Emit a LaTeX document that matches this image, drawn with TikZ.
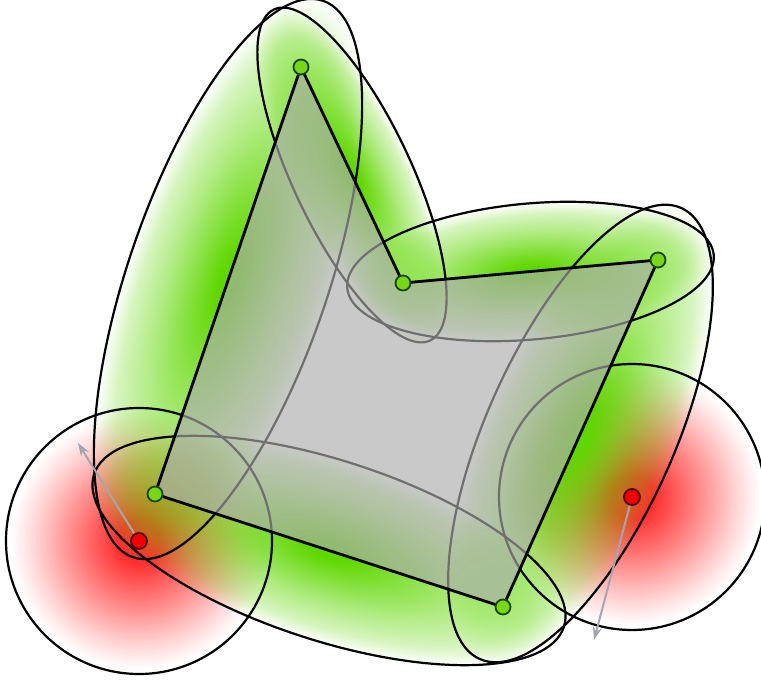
\documentclass[tikz,border=0pt]{standalone}
\usetikzlibrary{fadings,arrows.meta}
\definecolor{gr}{RGB}{95,215,0}
\definecolor{vgreen}{RGB}{120,215,20}
\definecolor{vdark}{RGB}{25,70,0}
\definecolor{rfill}{RGB}{240,0,0}
\definecolor{rdark}{RGB}{80,0,0}
\definecolor{arrgray}{RGB}{165,165,175}
\definecolor{polyfill}{RGB}{172,172,172}
\definecolor{rd}{RGB}{255,10,10}
\pgfdeclareradialshading{gfadesh}{\pgfpoint{0bp}{0bp}}{color(0bp)=(white); color(2bp)=(white); color(14bp)=(gray); color(21bp)=(black!75!white); color(25bp)=(black); color(50bp)=(black)}
\pgfdeclarefading{gfade}{\pgfuseshading{gfadesh}}
\pgfdeclareradialshading{rfadesh}{\pgfpoint{0bp}{0bp}}{color(0bp)=(white!85!black); color(4bp)=(white!85!black); color(12bp)=(gray); color(20bp)=(black!85!white); color(24bp)=(black); color(50bp)=(black)}
\pgfdeclarefading{rfade}{\pgfuseshading{rfadesh}}
\newcommand\myell[5]{\begin{scope}[transform canvas={shift={(#1)},rotate=#2}]\path[#5] (0,0) ellipse (#3pt and #4pt);\end{scope}}
\begin{document}
\begin{tikzpicture}[x=1pt,y=1pt,
  outl/.style={draw=black, line width=2.2pt},
  gfill/.style={fill=gr, path fading=gfade},
  rfillst/.style={fill=rd, path fading=rfade},
  vdot/.style={circle, fill=vgreen, draw=vdark, line width=1.8pt, minimum size=15pt, inner sep=0pt},
  rdot/.style={circle, fill=rfill, draw=rdark, line width=1.8pt, minimum size=16pt, inner sep=0pt},
  arr/.style={draw=arrgray, line width=2pt, -{Stealth[length=13pt,width=9pt]}}]
\useasboundingbox (0,0) rectangle (761,681);
\coordinate (A) at (301,614);
\coordinate (B) at (403,398);
\coordinate (C) at (658,421);
\coordinate (D) at (503,74);
\coordinate (E) at (155,187);
\coordinate (R1) at (139,140);
\coordinate (R2) at (632,184);
\coordinate (T1) at (78,238);
\coordinate (T2) at (594,41);
% red shadings
\myell{R1}{0}{133}{133}{rfillst}
\myell{R2}{0}{133}{133}{rfillst}
% green shadings
\myell{352,506}{-64.72}{183}{59}{gfill}
\myell{530.5,409.5}{5.15}{184}{68}{gfill}
\myell{580.5,247.5}{65.93}{247}{94}{gfill}
\myell{329,130.5}{162}{247}{90}{gfill}
\myell{228,402}{71.13}{294}{100}{gfill}
% outlines
\myell{R1}{0}{133}{133}{outl}
\myell{R2}{0}{133}{133}{outl}
\myell{352,506}{-64.72}{183}{59}{outl}
\myell{530.5,409.5}{5.15}{184}{68}{outl}
\myell{580.5,247.5}{65.93}{247}{94}{outl}
\myell{329,130.5}{162}{247}{90}{outl}
\myell{228,402}{71.13}{294}{100}{outl}
% polygon
\fill[polyfill, fill opacity=0.65] (A) -- (B) -- (C) -- (D) -- (E) -- cycle;
\draw[line width=2.8pt, line join=round] (A) -- (B) -- (C) -- (D) -- (E) -- cycle;
% arrows
\draw[arr] (R1) -- (T1);
\draw[arr] (R2) -- (T2);
% dots
\node[vdot] (vA) at (A) {};
\node[vdot] (vB) at (B) {};
\node[vdot] (vC) at (C) {};
\node[vdot] (vD) at (D) {};
\node[vdot] (vE) at (E) {};
\node[rdot] (p1) at (R1) {};
\node[rdot] (p2) at (R2) {};
\end{tikzpicture}
\end{document}
